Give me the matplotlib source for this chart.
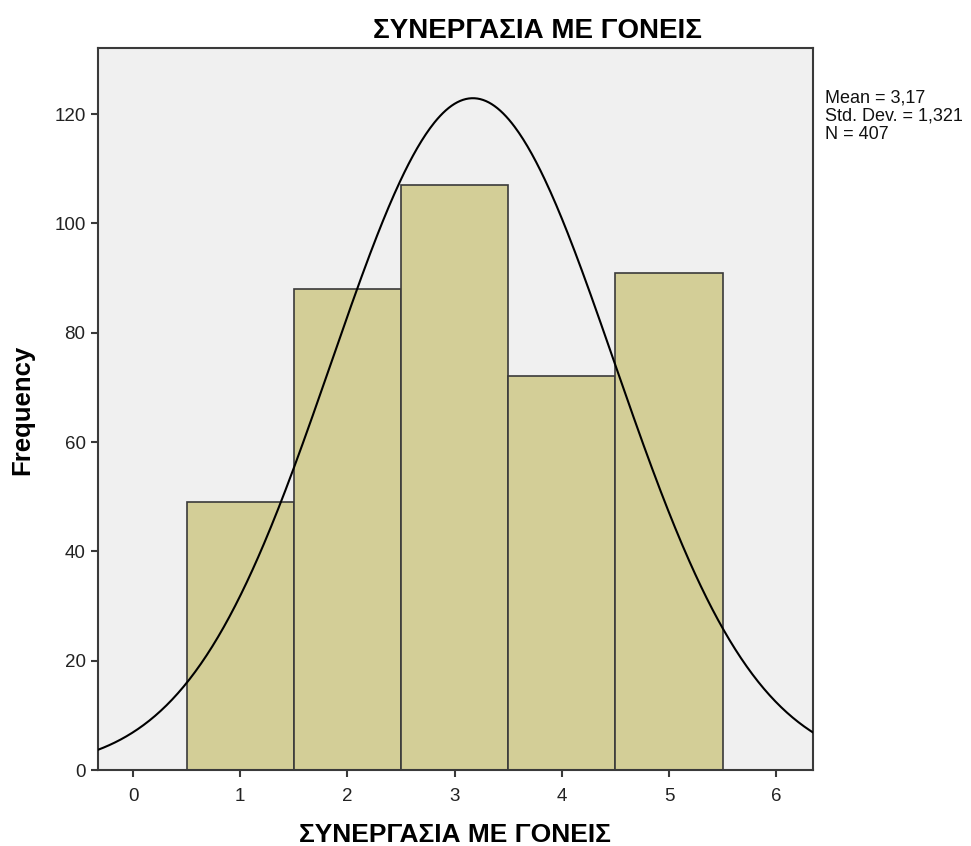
import numpy as np
import matplotlib
matplotlib.use("Agg")
import matplotlib.pyplot as plt

plt.rcParams['font.family'] = ['Liberation Sans', 'DejaVu Sans']

categories = [1, 2, 3, 4, 5]
frequencies = [49, 88, 107, 72, 91]
mean = 3.17
std = 1.321
n = 407
xticks = [0, 1, 2, 3, 4, 5, 6]
yticks = [0, 20, 40, 60, 80, 100, 120]
title = "ΣΥΝΕΡΓΑΣΙΑ ΜΕ ΓΟΝΕΙΣ"

fig = plt.figure(figsize=(9.71, 8.46), dpi=100)
ax = fig.add_axes([98/971, 1-770/846, (813-98)/971, (770-48)/846])
ax.set_facecolor('#F0F0F0')

ax.bar(categories, frequencies, width=1.0, color='#D3CE97', edgecolor='#3a3a3a', linewidth=1.2, zorder=2)

xs = np.linspace(-0.33, 6.34, 500)
ys = n * 1.0 / (std * np.sqrt(2*np.pi)) * np.exp(-0.5*((xs-mean)/std)**2)
ax.plot(xs, ys, color='black', linewidth=1.5, zorder=3)

ax.set_xlim(-0.327, 6.343)
ax.set_ylim(0, 132.1)
ax.set_xticks(xticks)
ax.set_yticks(yticks)
ax.tick_params(axis='both', labelsize=13.5, length=5, width=1.5, color='#3a3a3a', labelcolor='#222222', direction='out')
ax.tick_params(axis='x', pad=8)
ax.tick_params(axis='y', pad=4)
for s in ax.spines.values():
    s.set_color('#3a3a3a')
    s.set_linewidth(1.5)

fig.text(22/971, 1-410/846, 'Frequency', fontsize=18.5, fontweight='bold', rotation=90, ha='center', va='center')
fig.text(455/971, 1-835/846, title, fontsize=19, fontweight='bold', ha='center', va='center')
fig.text(537/971, 1-31/846, title, fontsize=20, fontweight='bold', ha='center', va='center')

fig.text(825/971, 1-116/846, "Mean = 3,17\nStd. Dev. = 1,321\nN = 407", fontsize=13,
         ha='left', va='center', linespacing=1.08, color='#111111')

fig.savefig('out.png', dpi=100, facecolor='white')
